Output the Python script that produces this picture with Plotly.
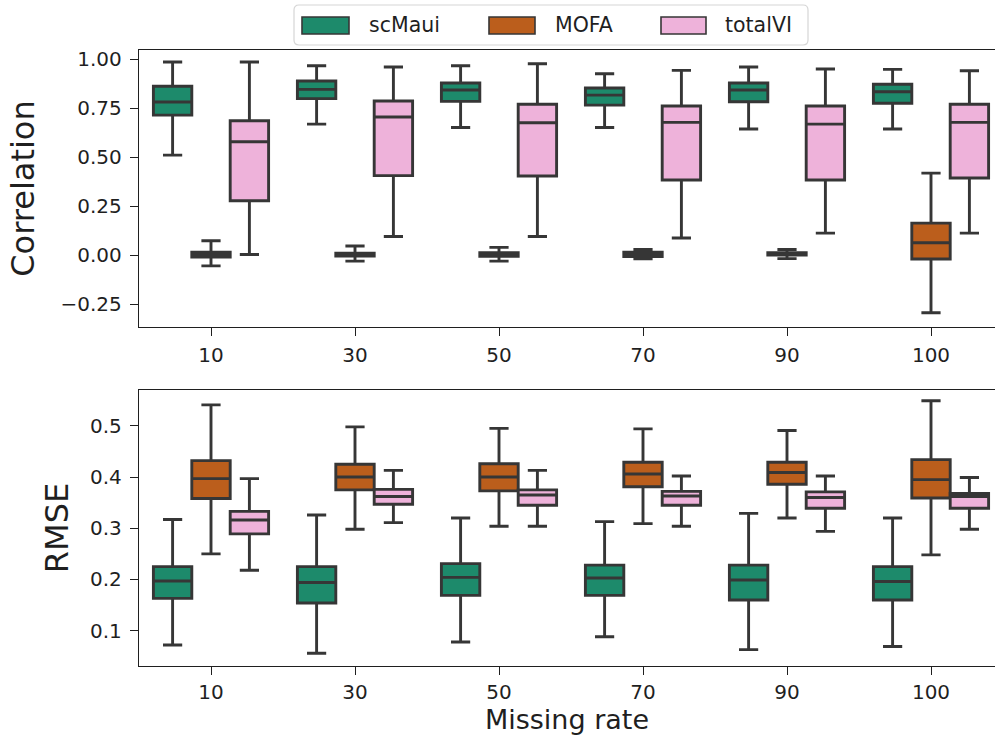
import plotly.graph_objects as go
from plotly.subplots import make_subplots

# Missing rates (%) on the shared x axis
rates = ["10", "30", "50", "70", "90", "100"]
methods = ["scMaui", "MOFA", "totalVI"]

# Correlation box statistics per method (one value per missing rate)
corr_low = {
    "scMaui": [0.510, 0.668, 0.651, 0.651, 0.643, 0.643],
    "MOFA": [-0.055, -0.031, -0.031, -0.019, -0.018, -0.294],
    "totalVI": [0.003, 0.095, 0.095, 0.087, 0.112, 0.112],
}
corr_q1 = {
    "scMaui": [0.714, 0.798, 0.784, 0.765, 0.782, 0.774],
    "MOFA": [-0.010, -0.005, -0.006, -0.008, 0.000, -0.020],
    "totalVI": [0.277, 0.405, 0.403, 0.383, 0.383, 0.393],
}
corr_med = {
    "scMaui": [0.781, 0.845, 0.842, 0.816, 0.842, 0.833],
    "MOFA": [0.002, 0.002, 0.003, 0.003, 0.006, 0.063],
    "totalVI": [0.578, 0.704, 0.675, 0.677, 0.668, 0.677],
}
corr_q3 = {
    "scMaui": [0.861, 0.888, 0.878, 0.852, 0.878, 0.871],
    "MOFA": [0.015, 0.010, 0.012, 0.015, 0.012, 0.163],
    "totalVI": [0.685, 0.786, 0.769, 0.760, 0.760, 0.769],
}
corr_high = {
    "scMaui": [0.985, 0.966, 0.966, 0.925, 0.959, 0.947],
    "MOFA": [0.073, 0.046, 0.039, 0.028, 0.028, 0.418],
    "totalVI": [0.985, 0.959, 0.976, 0.942, 0.949, 0.940],
}

# RMSE box statistics per method
rmse_low = {
    "scMaui": [0.072, 0.056, 0.078, 0.088, 0.063, 0.069],
    "MOFA": [0.250, 0.298, 0.304, 0.309, 0.320, 0.248],
    "totalVI": [0.218, 0.311, 0.304, 0.304, 0.294, 0.298],
}
rmse_q1 = {
    "scMaui": [0.163, 0.154, 0.169, 0.169, 0.160, 0.160],
    "MOFA": [0.358, 0.375, 0.373, 0.381, 0.386, 0.359],
    "totalVI": [0.289, 0.347, 0.345, 0.345, 0.339, 0.339],
}
rmse_med = {
    "scMaui": [0.197, 0.194, 0.204, 0.203, 0.199, 0.196],
    "MOFA": [0.397, 0.400, 0.400, 0.406, 0.409, 0.395],
    "totalVI": [0.316, 0.362, 0.365, 0.363, 0.360, 0.362],
}
rmse_q3 = {
    "scMaui": [0.225, 0.225, 0.231, 0.228, 0.228, 0.225],
    "MOFA": [0.432, 0.425, 0.426, 0.429, 0.429, 0.434],
    "totalVI": [0.333, 0.376, 0.375, 0.372, 0.371, 0.368],
}
rmse_high = {
    "scMaui": [0.317, 0.326, 0.320, 0.313, 0.329, 0.320],
    "MOFA": [0.541, 0.498, 0.495, 0.494, 0.491, 0.549],
    "totalVI": [0.397, 0.413, 0.413, 0.402, 0.402, 0.399],
}

colors = {"scMaui": "#1d8a6b", "MOFA": "#bb5e1c", "totalVI": "#eeb2da"}
edge = "#363636"
ink = "#1f1f1f"
font_family = "DejaVu Sans"

W, H = 995, 740
L, R, T, B = 139, 0, 50, 74

fig = make_subplots(rows=2, cols=1, vertical_spacing=0.0)

panels = [
    (1, corr_low, corr_q1, corr_med, corr_q3, corr_high),
    (2, rmse_low, rmse_q1, rmse_med, rmse_q3, rmse_high),
]
for row, lo, q1, med, q3, hi in panels:
    for m in methods:
        fig.add_trace(
            go.Box(
                name=m,
                x=rates,
                lowerfence=lo[m],
                q1=q1[m],
                median=med[m],
                q3=q3[m],
                upperfence=hi[m],
                fillcolor=colors[m],
                line=dict(color=edge, width=2.9),
                whiskerwidth=0.5,
                boxpoints=False,
                offsetgroup=m,
                showlegend=False,
                hoverinfo="skip",
            ),
            row=row,
            col=1,
        )

plot_w = W - L - R
plot_h = H - T - B
top_dom = [(666 - 327) / plot_h, 1.0]
bot_dom = [0.0, (666 - 390) / plot_h]

xrange = [-0.5, -0.5 + plot_w / 144.0]
axis_common = dict(
    showline=True,
    linecolor=ink,
    linewidth=1.4,
    ticks="outside",
    ticklen=8,
    tickwidth=1.4,
    tickcolor=ink,
    tickfont=dict(family=font_family, size=20, color=ink),
    showgrid=False,
    zeroline=False,
)

fig.update_layout(
    width=W,
    height=H,
    margin=dict(l=L, r=R, t=T, b=B, pad=0),
    paper_bgcolor="white",
    plot_bgcolor="white",
    boxmode="group",
    boxgap=0.2,
    boxgroupgap=0.0,
    font=dict(family=font_family, color=ink),
    xaxis=dict(
        axis_common,
        type="category",
        categoryorder="array",
        categoryarray=rates,
        range=xrange,
        mirror=True,
        anchor="y",
        ticklabelstandoff=2,
    ),
    xaxis2=dict(
        axis_common,
        type="category",
        categoryorder="array",
        categoryarray=rates,
        range=xrange,
        mirror=True,
        anchor="y2",
        title=dict(
            text="Missing rate",
            font=dict(family=font_family, size=27, color=ink),
            standoff=6,
        ),
    ),
    yaxis=dict(
        axis_common,
        domain=top_dom,
        range=[-0.367, 1.046],
        tickvals=[-0.25, 0.0, 0.25, 0.5, 0.75, 1.0],
        tickformat=".2f",
        ticklabelstandoff=4,
        title=dict(
            text="Correlation",
            font=dict(family=font_family, size=32, color=ink),
            standoff=16,
        ),
    ),
    yaxis2=dict(
        axis_common,
        domain=bot_dom,
        range=[0.031, 0.570],
        tickvals=[0.1, 0.2, 0.3, 0.4, 0.5],
        tickformat=".1f",
        ticklabelstandoff=4,
        title=dict(
            text="RMSE",
            font=dict(family=font_family, size=32, color=ink),
            standoff=11,
        ),
    ),
)


def px_x(px):
    return (px - L) / plot_w


def px_y(py):
    return (H - B - py) / plot_h


# Legend box drawn above the top panel
x0, x1, y0, y1, r = 294, 808, 5, 45, 5
fx = lambda v: f"{px_x(v):.5f}"
fy = lambda v: f"{px_y(v):.5f}"
path = (
    f"M {fx(x0 + r)},{fy(y0)} L {fx(x1 - r)},{fy(y0)} "
    f"Q {fx(x1)},{fy(y0)} {fx(x1)},{fy(y0 + r)} "
    f"L {fx(x1)},{fy(y1 - r)} Q {fx(x1)},{fy(y1)} {fx(x1 - r)},{fy(y1)} "
    f"L {fx(x0 + r)},{fy(y1)} Q {fx(x0)},{fy(y1)} {fx(x0)},{fy(y1 - r)} "
    f"L {fx(x0)},{fy(y0 + r)} Q {fx(x0)},{fy(y0)} {fx(x0 + r)},{fy(y0)} Z"
)
fig.add_shape(
    type="path",
    path=path,
    xref="paper",
    yref="paper",
    line=dict(color="#d6d6d6", width=1.2),
    fillcolor="white",
    layer="above",
)

swatches = {"scMaui": (302, 349), "MOFA": (489, 535), "totalVI": (661, 706)}
label_x = {"scMaui": 367, "MOFA": 553, "totalVI": 723}
for m in methods:
    sx0, sx1 = swatches[m]
    fig.add_shape(
        type="rect",
        xref="paper",
        yref="paper",
        x0=px_x(sx0),
        x1=px_x(sx1),
        y0=px_y(34),
        y1=px_y(17),
        fillcolor=colors[m],
        line=dict(color=edge, width=1.6),
        layer="above",
    )
    fig.add_annotation(
        text=m,
        xref="paper",
        yref="paper",
        x=px_x(label_x[m]),
        y=px_y(25.5),
        xanchor="left",
        yanchor="middle",
        showarrow=False,
        font=dict(family=font_family, size=20.5, color=ink),
    )

fig.write_html("out.html")
